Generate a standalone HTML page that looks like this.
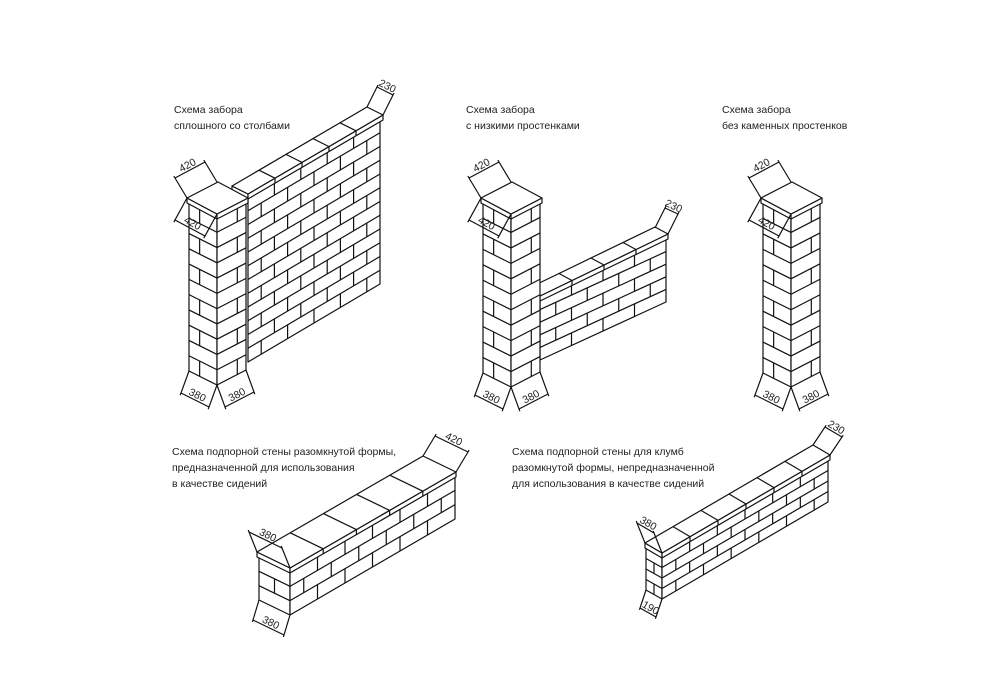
<!DOCTYPE html>
<html><head><meta charset="utf-8">
<style>
html,body{margin:0;padding:0;background:#fff;}
svg{display:block;}
text{font-family:"Liberation Sans","DejaVu Sans",sans-serif;font-size:10.5px;fill:#222;}
</style></head>
<body>
<svg id="s" width="1000" height="699" viewBox="0 0 1000 699" xmlns="http://www.w3.org/2000/svg">
<rect width="1000" height="699" fill="#fff"/>
<g id="d" stroke="#111" stroke-width="1.2" fill="none" stroke-linejoin="round"></g>
<text x="174" y="113">Схема забора</text>
<text x="174" y="129">сплошного со столбами</text>
<text x="466" y="113">Схема забора</text>
<text x="466" y="129">с низкими простенками</text>
<text x="722" y="113">Схема забора</text>
<text x="722" y="129">без каменных простенков</text>
<text x="172" y="455">Схема подпорной стены разомкнутой формы,</text>
<text x="172" y="471">предназначенной для использования</text>
<text x="172" y="487">в качестве сидений</text>
<text x="512" y="455">Схема подпорной стены для клумб</text>
<text x="512" y="471">разомкнутой формы, непредназначенной</text>
<text x="512" y="487">для использования в качестве сидений</text>
<g id="t"></g>
</svg>
<script>
var g=document.getElementById('d'),tg=document.getElementById('t'),NS="http://www.w3.org/2000/svg";
function L(a,b,c,d){var e=document.createElementNS(NS,'line');e.setAttribute('x1',a);e.setAttribute('y1',b);e.setAttribute('x2',c);e.setAttribute('y2',d);g.appendChild(e);}
function P(pts,fill){var e=document.createElementNS(NS,'polygon');e.setAttribute('points',pts.map(function(p){return p[0]+','+p[1]}).join(' '));if(fill)e.setAttribute('fill','#fff');g.appendChild(e);}
function face(p,u,h,rows,nB,joint){
  P([p,[p[0]+u[0],p[1]+u[1]],[p[0]+u[0],p[1]+u[1]+h],[p[0],p[1]+h]],1);
  for(var r=0;r<rows;r++){
    var y0=p[1]+h*r/rows,y1=p[1]+h*(r+1)/rows;
    if(r>0)L(p[0],y0,p[0]+u[0],y0+u[1]);
    if(joint!==undefined){ if(r%2==0){var t=joint;L(p[0]+u[0]*t,y0+u[1]*t,p[0]+u[0]*t,y1+u[1]*t);} continue;}
    var off=(r%2)?0.5:0;
    for(var j=0;j<=nB+1;j++){var t=(j+off)/nB;if(t<=0.02||t>=0.98)continue;
      L(p[0]+u[0]*t,y0+u[1]*t,p[0]+u[0]*t,y1+u[1]*t);}
  }
}
function cap(A,B,C,th,seg){
  var D=[A[0]+C[0]-B[0],A[1]+C[1]-B[1]];
  P([A,B,[B[0],B[1]+th],[A[0],A[1]+th]],1);
  P([B,C,[C[0],C[1]+th],[B[0],B[1]+th]],1);
  P([A,B,C,D],1);
  for(var i=1;i<seg;i++){var t=i/seg,dx=(C[0]-B[0])*t,dy=(C[1]-B[1])*t;
    L(B[0]+dx,B[1]+dy,A[0]+dx,A[1]+dy);L(B[0]+dx,B[1]+dy,B[0]+dx,B[1]+dy+th);}
}
function dim(p1,p2,o,txt){
  L(p1[0],p1[1],p1[0]+o[0]*1.1,p1[1]+o[1]*1.1);
  L(p2[0],p2[1],p2[0]+o[0]*1.1,p2[1]+o[1]*1.1);
  var a=[p1[0]+o[0],p1[1]+o[1]],b=[p2[0]+o[0],p2[1]+o[1]];
  var dx=b[0]-a[0],dy=b[1]-a[1];
  L(a[0],a[1],b[0],b[1]);
  var ang=Math.atan2(dy,dx)*180/Math.PI;if(ang>90)ang-=180;if(ang<-90)ang+=180;
  var mx=(a[0]+b[0])/2,my=(a[1]+b[1])/2;
  var t=document.createElementNS(NS,'text');
  t.setAttribute('x',mx);t.setAttribute('y',my-2);t.setAttribute('text-anchor','middle');
  t.setAttribute('transform','rotate('+ang+' '+mx+' '+my+')');t.textContent=txt;tg.appendChild(t);
}
function pillar(x0,y0,h){
  face([x0-28,y0-14],[28,14],h,11,1,0.38);
  face([x0,y0],[29,-15],h,11,1,0.7);
  cap([x0-30,y0-19],[x0,y0-3],[x0+31,y0-19],5,1);
  var A=[x0-30,y0-19],D=[x0,y0-35],B=[x0,y0-3];
  dim(A,D,[-12,-20],'420');
  dim(A,B,[-12,22],'420');
  dim([x0-28,y0-14+h],[x0,y0+h],[-8,22],'380');
  dim([x0,y0+h],[x0+29,y0-15+h],[8,22],'380');
}
// Fig 1
face([248,197],[132,-78],165,12,5);
cap([232,186],[248,194],[383,115],5,5);
dim([367,107],[383,115],[10,-20],'230');
pillar(217,217,168);
// Fig 2
face([540,297],[126,-58],63,5,4);
cap([527,289],[540,296],[668,234],5,4);
dim([655,228],[668,234],[10,-20],'230');
pillar(511,217,170);
// Fig 3
pillar(791,217,170);
// Fig 4
face([259,557],[31,15],43,3,1);
face([290,572],[165,-96],43,3,6);
cap([257,552],[290,568],[456,472],5,5);
dim([257,552],[290,568],[-8,-20],'380');
dim([259,600],[290,615],[-6,20],'380');
dim([456,472],[423,456],[12,-20],'420');
// Fig 5
face([646,548],[16,9],42,4,1);
face([662,557],[166,-97],42,4,6);
cap([645,543],[662,553],[830,455],5,6);
dim([645,543],[662,553],[-8,-20],'380');
dim([646,590],[662,599],[-6,18],'190');
dim([830,455],[813,445],[12,-18],'230');
</script>
</body></html>
